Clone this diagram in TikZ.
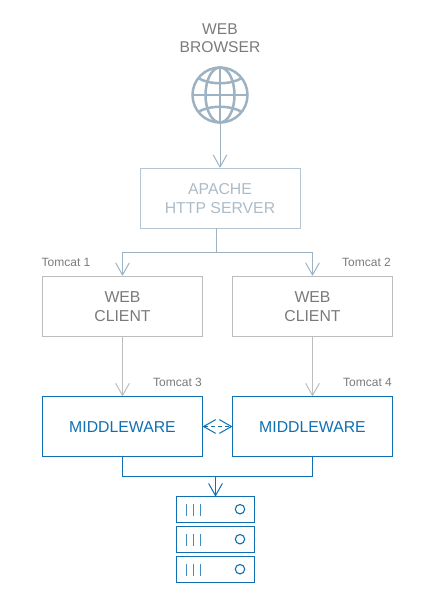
\documentclass[tikz,border=0pt]{standalone}
\usepackage{fontspec}
\setmainfont{Liberation Sans}
\usetikzlibrary{arrows.meta}
\definecolor{slateline}{HTML}{9DB2C2}
\definecolor{apachetxt}{HTML}{ABBCC8}
\definecolor{graybox}{HTML}{BDBDBD}
\definecolor{graytxt}{HTML}{7A7A7A}
\definecolor{bluemw}{HTML}{0F6FB0}
\tikzset{
  x=1pt,y=-1pt,
  boxbase/.style={draw,line width=1pt,minimum width=160pt,minimum height=60pt,inner sep=0pt,align=center,font=\fontsize{15.8}{19}\selectfont},
  apachebox/.style={boxbase,draw=slateline!75,text=apachetxt},
  clientbox/.style={boxbase,draw=graybox,text=graytxt},
  mwbox/.style={boxbase,draw=bluemw,text=bluemw},
  srvbox/.style={draw=bluemw,line width=1.2pt,minimum width=78pt,minimum height=25.5pt,inner sep=0pt},
  lbl/.style={text=graytxt,font=\fontsize{12}{14}\selectfont,inner sep=0pt},
  vtip/.style={-{Straight Barb[length=12pt,width=13.5pt,line width=1pt,round]}},
  slatearrow/.style={slateline,line width=1pt,vtip},
  slateline1/.style={slateline,line width=1pt},
  bluearrow/.style={bluemw,line width=1.1pt,vtip},
  blueline1/.style={bluemw,line width=1.1pt},
  globeline/.style={slateline,line width=2.5pt},
  srvmark/.style={bluemw!80,line width=1.3pt},
}
\begin{document}
\begin{tikzpicture}
\useasboundingbox (0,0) rectangle (434,598);
\node[text=graytxt,align=center,inner sep=0pt,font=\fontsize{15.6}{18}\selectfont] (browser) at (220,38.5) {WEB\\BROWSER};
% globe
\coordinate (gc) at (220,95);
\draw[globeline] (gc) circle (27.5);
\draw[globeline] (gc) ellipse (14.5 and 27.5);
\draw[globeline] (220,67.5) -- (220,122.5);
\draw[globeline] (192.5,95) -- (247.5,95);
\draw[globeline] (198,78) .. controls (210,85) and (230,85) .. (242,78);
\draw[globeline] (198,112) .. controls (210,105) and (230,105) .. (242,112);
\coordinate (gb) at (220,123);

\node[apachebox] (apache) at (220,198) {};
\node[apachebox,draw=none,minimum height=0pt] (apachet) at (220,198.7) {APACHE\\HTTP SERVER};
\node[clientbox] (c1) at (122.5,306) {};
\node[clientbox,draw=none,minimum height=0pt] (c1t) at (122.5,306.7) {WEB\\CLIENT};
\node[clientbox] (c2) at (312.5,306) {};
\node[clientbox,draw=none,minimum height=0pt] (c2t) at (312.5,306.7) {WEB\\CLIENT};
\node[mwbox] (m1) at (122.5,426.5) {};
\node[mwbox,draw=none,minimum height=0pt] (m1t) at (122.5,427.2) {MIDDLEWARE};
\node[mwbox] (m2) at (312.5,426.5) {};
\node[mwbox,draw=none,minimum height=0pt] (m2t) at (312.5,427.2) {MIDDLEWARE};
\node[srvbox] (s1) at (215.5,509.5) {};
\node[srvbox] (s2) at (215.5,539.5) {};
\node[srvbox] (s3) at (215.5,569.5) {};

\node[lbl,anchor=west] (t1) at (41.5,262) {Tomcat 1};
\node[lbl,anchor=west] (t2) at (342,262) {Tomcat 2};
\node[lbl,anchor=west] (t3) at (153,382) {Tomcat 3};
\node[lbl,anchor=west] (t4) at (343,382) {Tomcat 4};

\draw[slatearrow] (gb) -- (apache.north);
\coordinate (a0) at (216.5,228);
\coordinate (aj) at (216.5,252.5);
\draw[slateline1] (a0) -- (aj);
\draw[slatearrow] (aj) -| (c1.north);
\draw[slatearrow] (aj) -| (c2.north);
\draw[slatearrow,draw=graybox] (c1.south) -- (m1.north);
\draw[slatearrow,draw=graybox] (c2.south) -- (m2.north);

\draw[bluearrow,dashed,dash pattern=on 4pt off 3pt,{Straight Barb[length=12pt,width=13.5pt,line width=1pt,round]}-{Straight Barb[length=12pt,width=13.5pt,line width=1pt,round]}] (m1.east) -- (m2.west);

\coordinate (mj) at (215.5,476.5);
\draw[blueline1] (m1.south) |- (mj) -| (m2.south);
\draw[bluearrow] (mj) -- (s1.north);

\foreach \n/\y in {1/509.5,2/539.5,3/569.5}{
  \draw[srvmark] (186.5,\y-6) -- (186.5,\y+6);
  \draw[srvmark] (193.5,\y-6) -- (193.5,\y+6);
  \draw[srvmark] (200.5,\y-6) -- (200.5,\y+6);
  \draw[blueline1] (240,\y-0.3) circle (4.7);
}
\end{tikzpicture}
\end{document}
